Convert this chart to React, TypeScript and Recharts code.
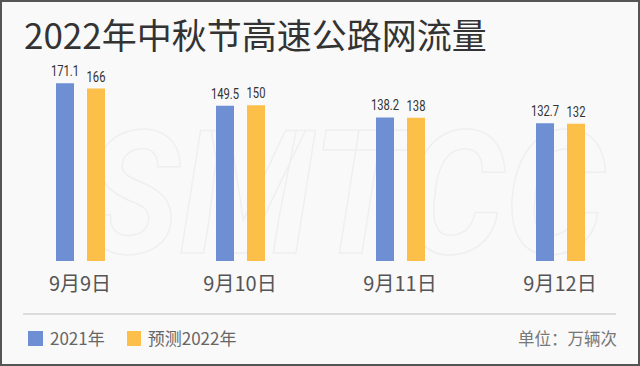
import React from "react";
import { BarChart, Bar, XAxis, YAxis, LabelList } from "recharts";

const categories = ["9月9日", "9月10日", "9月11日", "9月12日"];
const values2021 = [171.1, 149.5, 138.2, 132.7];
const forecast2022 = [166, 150, 138, 132];

const COLORS = { y2021: "#6E8FD4", y2022: "#FCBF49" };
const CJK = '"Noto Sans CJK SC", "Noto Sans", sans-serif';

const data = categories.map((day, i) => ({
  day,
  y2021: values2021[i],
  y2022: forecast2022[i],
}));

function DayTick(props: { x?: number; y?: number; payload?: { value: string } }) {
  const { x = 0, y = 0, payload } = props;
  return (
    <text x={x} y={y + 22} textAnchor="middle" fill="#555" fontSize={20} fontFamily={CJK}>
      {payload?.value}
    </text>
  );
}

// condensed number label, the source uses a narrow DIN-like face
function ValueLabel(props: { x?: number; y?: number; width?: number; value?: number | string }) {
  const { x = 0, y = 0, width = 0, value = "" } = props;
  const s = String(value);
  const len = s.split("").reduce((a, c) => a + (c === "." ? 3 : 6.3), 0);
  return (
    <text
      x={Number(x) + Number(width) / 2}
      y={Number(y) - 7}
      textAnchor="middle"
      fill="#333"
      fontSize={15}
      fontFamily="Roboto, sans-serif"
      textLength={len}
      lengthAdjust="spacingAndGlyphs"
    >
      {s}
    </text>
  );
}

export default function App() {
  return (
    <div
      style={{
        position: "absolute",
        left: 0,
        top: 0,
        width: 640,
        height: 366,
        background: "#f9f9f9",
        overflow: "hidden",
        fontFamily: CJK,
      }}
    >
      <svg width={640} height={366} style={{ position: "absolute", left: 0, top: 0 }}>
        <text
          x={85}
          y={253}
          fontSize={172}
          fontStyle="italic"
          fontWeight={700}
          fontFamily="Roboto, sans-serif"
          fill="none"
          stroke="#efefef"
          strokeWidth={1.5}
          textLength={520}
          lengthAdjust="spacingAndGlyphs"
        >
          SMTCC
        </text>
      </svg>

      <div
        style={{
          position: "absolute",
          left: 24,
          top: 10,
          fontSize: 35,
          color: "#333",
          whiteSpace: "nowrap",
          lineHeight: "48px",
        }}
      >
        2022年中秋节高速公路网流量
      </div>

      <div style={{ position: "absolute", left: 0, top: 0 }}>
        <BarChart
          width={640}
          height={300}
          data={data}
          margin={{ top: 74, right: 0, left: 0, bottom: 0 }}
          barSize={18}
          barGap={13}
        >
          <XAxis
            dataKey="day"
            axisLine={false}
            tickLine={false}
            height={39}
            interval={0}
            tick={<DayTick />}
          />
          <YAxis hide domain={[0, 180]} />
          <Bar dataKey="y2021" fill={COLORS.y2021} isAnimationActive={false}>
            <LabelList dataKey="y2021" content={<ValueLabel />} />
          </Bar>
          <Bar dataKey="y2022" fill={COLORS.y2022} isAnimationActive={false}>
            <LabelList dataKey="y2022" content={<ValueLabel />} />
          </Bar>
        </BarChart>
      </div>

      <div style={{ position: "absolute", left: 23, top: 313, width: 593, height: 2, background: "#dcdcdc" }} />

      <div style={{ position: "absolute", left: 28, top: 326, display: "flex", alignItems: "center", fontSize: 17, color: "#666", lineHeight: "24px" }}>
        <span style={{ width: 15, height: 15, background: COLORS.y2021, display: "inline-block", marginRight: 7 }} />
        <span>2021年</span>
        <span style={{ width: 14, height: 15, background: COLORS.y2022, display: "inline-block", marginLeft: 22, marginRight: 7 }} />
        <span>预测2022年</span>
      </div>

      <div style={{ position: "absolute", right: 23, top: 326, fontSize: 16.5, color: "#777", lineHeight: "24px", whiteSpace: "nowrap" }}>
        单位：万辆次
      </div>

      <div
        style={{
          position: "absolute",
          left: 0,
          top: 0,
          width: 640,
          height: 366,
          boxSizing: "border-box",
          border: "2px solid #555",
          pointerEvents: "none",
        }}
      />
    </div>
  );
}
